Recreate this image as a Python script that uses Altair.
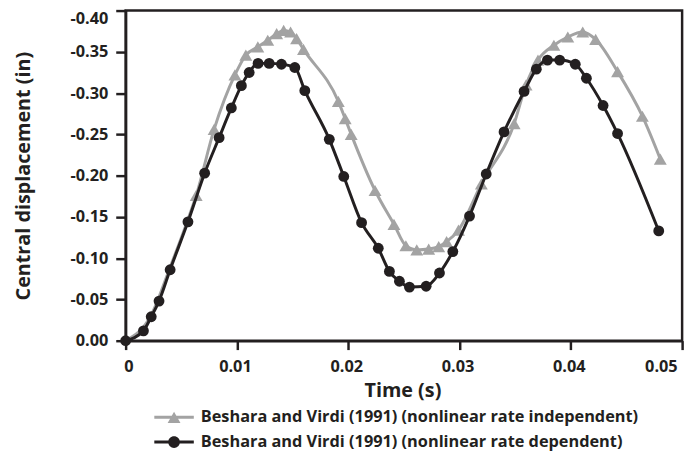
import altair as alt
import pandas as pd

# ---- data ----
dep_t = [0.0, 0.0016, 0.0023, 0.0030, 0.0040, 0.0056, 0.0071, 0.0084, 0.0095, 0.0104,
         0.0111, 0.0119, 0.0129, 0.0140, 0.0152, 0.0161, 0.0183, 0.0196, 0.0212, 0.0227,
         0.0237, 0.0246, 0.0255, 0.0270, 0.0282, 0.0294, 0.0309, 0.0324, 0.0340, 0.0358,
         0.0369, 0.0379, 0.0390, 0.0404, 0.0414, 0.0429, 0.0442, 0.0479]
dep_v = [0.0, -0.012, -0.029, -0.048, -0.086, -0.144, -0.203, -0.246, -0.282, -0.309,
         -0.325, -0.336, -0.336, -0.335, -0.331, -0.303, -0.244, -0.199, -0.143, -0.112,
         -0.084, -0.072, -0.065, -0.066, -0.082, -0.108, -0.151, -0.202, -0.253, -0.302,
         -0.329, -0.340, -0.340, -0.335, -0.318, -0.285, -0.251, -0.133]

ind_t = [0.0, 0.0023, 0.0040, 0.0056, 0.00634, 0.00795, 0.00982, 0.01080, 0.01188, 0.01277,
         0.01357, 0.01420, 0.01482, 0.01536, 0.01598, 0.01911, 0.01973, 0.02027, 0.02241,
         0.02411, 0.02518, 0.02616, 0.02723, 0.02813, 0.02884, 0.02991, 0.03196, 0.03491,
         0.03598, 0.03705, 0.03848, 0.03973, 0.04107, 0.04223, 0.04420, 0.04643, 0.04804]
ind_v = [0.0, -0.031, -0.089, -0.147, -0.176, -0.256, -0.322, -0.346, -0.356, -0.364,
         -0.372, -0.376, -0.374, -0.366, -0.353, -0.290, -0.269, -0.250, -0.182,
         -0.141, -0.115, -0.110, -0.111, -0.114, -0.120, -0.134, -0.190, -0.263,
         -0.310, -0.340, -0.358, -0.368, -0.374, -0.365, -0.326, -0.272, -0.220]
ind_marker = [0, 0, 0, 0] + [1] * 33

series_names = ["Beshara and Virdi (1991) (nonlinear rate independent)",
                "Beshara and Virdi (1991) (nonlinear rate dependent)"]
series_colors = ["#a3a3a3", "#231f20"]
x_ticks = [0, 0.01, 0.02, 0.03, 0.04, 0.05]
y_ticks = [0, -0.05, -0.10, -0.15, -0.20, -0.25, -0.30, -0.35, -0.40]

# legend symbols: a line with the series marker on it
legend_paths = [
    "M-1.48,-0.11H1.48V0.11H-1.48Z M0,-0.42L0.48,0.42H-0.48Z",
    "M-1.48,-0.11H1.48V0.11H-1.48Z M-0.44,0A0.44,0.44 0 1,1 0.44,0A0.44,0.44 0 1,1 -0.44,0Z",
]

FONT = "Open Sans"
INK = "#231f20"

dep_df = pd.DataFrame({"t": dep_t, "v": dep_v})
ind_df = pd.DataFrame({"t": ind_t, "v": ind_v, "m": ind_marker})
legend_df = pd.DataFrame({"t": [-1.0, -1.0], "v": [0.0, 0.0], "series": series_names})

x_axis = alt.Axis(
    values=x_ticks,
    labelExpr="datum.value == 0 ? '0' : format(datum.value, '.2f')",
    title="Time (s)",
    titleX=280, titleY=50, titleBaseline="middle",
    tickSize=9, labelPadding=9,
    labelOffset={"condition": {"test": "datum.value > 0.049", "value": -5}, "value": -2},
)
y_axis = alt.Axis(
    values=y_ticks,
    labelExpr="(datum.value < 0 ? '-' : '') + format(abs(datum.value), '.2f')",
    title="Central displacement (in)",
    titleX=-103, titleY=167, titleBaseline="middle", titleAngle=-90,
    tickSize=10, labelPadding=8,
    labelBaseline={"condition": {"test": "datum.value < -0.39", "value": "top"}, "value": "middle"},
)

X = alt.X("t:Q", scale=alt.Scale(domain=[0, 0.05], nice=False, zero=False), axis=x_axis)
Y = alt.Y("v:Q", scale=alt.Scale(domain=[-0.4, 0], reverse=True, nice=False), axis=y_axis)

ind_line = alt.Chart(ind_df).mark_line(interpolate="monotone", strokeWidth=3, color=series_colors[0]).encode(x=X, y=Y)
ind_pts = alt.Chart(ind_df).transform_filter("datum.m == 1").mark_point(
    shape="triangle-up", filled=True, size=170, opacity=1, color=series_colors[0]
).encode(x=X, y=Y)
dep_line = alt.Chart(dep_df).mark_line(interpolate="monotone", strokeWidth=3, color=series_colors[1]).encode(x=X, y=Y)
dep_pts = alt.Chart(dep_df).mark_circle(size=120, opacity=1, color=series_colors[1]).encode(x=X, y=Y)

leg = dict(
    orient="none", legendX=35.5, legendY=398, title=None, direction="vertical",
    symbolSize=729, symbolStrokeWidth=0, labelFont=FONT, labelFontSize=16.5,
    labelFontWeight="bold", labelColor=INK, labelOffset=13.5, rowPadding=3,
    padding=0, labelLimit=700,
)
legend_layer = alt.Chart(legend_df).mark_point(filled=True, opacity=1, clip=True).encode(
    x=X, y=Y,
    color=alt.Color("series:N", scale=alt.Scale(domain=series_names, range=series_colors),
                    legend=alt.Legend(**leg)),
    shape=alt.Shape("series:N", scale=alt.Scale(domain=series_names, range=legend_paths),
                    legend=alt.Legend(**leg)),
)

chart = alt.layer(ind_line, ind_pts, dep_line, dep_pts, legend_layer).properties(
    width=563, height=334,
    autosize="none",
    padding={"left": 119, "top": 0, "right": 10, "bottom": 110},
).configure_view(
    stroke=INK, strokeWidth=2.5
).configure_axis(
    grid=False, domainColor=INK, domainWidth=2.5, tickColor=INK, tickWidth=2.5,
    labelFont=FONT, labelFontSize=16.5, labelFontWeight="bold", labelColor=INK,
    titleFont=FONT, titleFontSize=20, titleFontWeight="bold", titleColor=INK,
)

chart.save("out.html", embed_options={"renderer": "svg", "actions": False})
